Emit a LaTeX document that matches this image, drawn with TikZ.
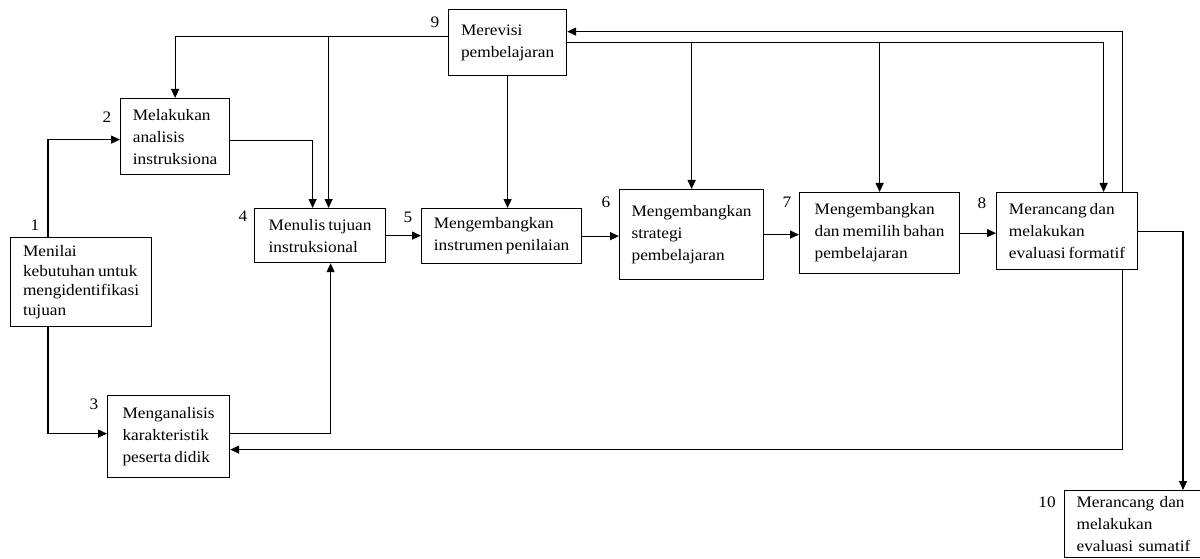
\documentclass[tikz,border=0pt]{standalone}
\usepackage{fontspec}
\setmainfont{Liberation Serif}[FakeStretch=1.08,WordSpace=0.7]
\usepackage{tikz}
\usetikzlibrary{arrows.meta,positioning,calc}

\begin{document}
\begin{tikzpicture}[x=1pt,y=-1pt,
    tahap/.style={draw,line width=1.2pt,anchor=north west,align=left,inner sep=0pt,font=\fontsize{16}{22}\selectfont},
    nomor/.style={inner sep=0pt,font=\fontsize{16}{18}\selectfont},
    panah/.style={line width=1.2pt,-{Triangle[length=9pt,width=8pt]}}]
    \useasboundingbox (0,0) rectangle (1200,559);
    \clip (0,0) rectangle (1200,559);
    % kotak-kotak tahap
    \node[tahap,minimum width=141pt,minimum height=89pt,font=\fontsize{16}{19.5}\selectfont] (n1) at (10,237) {Menilai\\kebutuhan untuk\\mengidentifikasi\\tujuan};
    \node[tahap,minimum width=109pt,minimum height=76pt] (n2) at (120,98) {Melakukan\\analisis\\instruksiona};
    \node[tahap,minimum width=122pt,minimum height=82pt] (n3) at (107,395) {Menganalisis\\karakteristik\\peserta didik};
    \node[tahap,minimum width=131pt,minimum height=54pt] (n4) at (254,208) {Menulis tujuan\\instruksional};
    \node[tahap,minimum width=160pt,minimum height=55pt] (n5) at (421,208) {Mengembangkan\\instrumen penilaian};
    \node[tahap,minimum width=144pt,minimum height=90pt] (n6) at (619,189) {Mengembangkan\\strategi\\pembelajaran};
    \node[tahap,minimum width=160pt,minimum height=81pt] (n7) at (799,192) {Mengembangkan\\dan memilih bahan\\pembelajaran};
    \node[tahap,minimum width=141pt,minimum height=77pt] (n8) at (996,192) {Merancang dan\\melakukan\\evaluasi formatif};
    \node[tahap,minimum width=118pt,minimum height=66pt] (n9) at (448,9) {Merevisi\\pembelajaran};
    \node[tahap,text width=130pt,inner xsep=12pt,inner ysep=6pt] (n10) at (1064,490) {Merancang dan\\melakukan\\evaluasi sumatif};
    % nomor
    \node[nomor] (k1) at ($(n1.north west)+(25,-12)$) {1};
    \node[nomor] (k2) at ($(n2.north west)+(-13,19)$) {2};
    \node[nomor] (k3) at ($(n3.north west)+(-13,9)$) {3};
    \node[nomor] (k4) at ($(n4.north west)+(-11,8)$) {4};
    \node[nomor] (k5) at ($(n5.north west)+(-13,9)$) {5};
    \node[nomor] (k6) at ($(n6.north west)+(-13,13)$) {6};
    \node[nomor] (k7) at ($(n7.north west)+(-12,10)$) {7};
    \node[nomor] (k8) at ($(n8.north west)+(-14,11)$) {8};
    \node[nomor] (k9) at ($(n9.north west)+(-13,13)$) {9};
    \node[nomor] (k10) at ($(n10.north west)+(-17,12)$) {10};
    % alur utama
    \draw[panah] ([xshift=38pt]n1.north west) |- ([yshift=-3pt]n2.west);
    \draw[panah] ([xshift=38pt]n1.south west) |- ([yshift=3pt]n3.west);
    \draw[panah] ([yshift=-4pt]n2.east) -| ([xshift=-7.5pt]n4.north);
    \draw[panah] ([yshift=3pt]n3.east) -| ([xshift=10.5pt]n4.south);
    \draw[panah] (n4.east) -- (n4.east -| n5.west);
    \draw[panah] (n5.east) -- (n5.east -| n6.west);
    \draw[panah] (n6.east) -- (n6.east -| n7.west);
    \draw[panah] (n7.east) -- (n7.east -| n8.west);
    \draw[panah] (n8.east) -| ([xshift=119pt]n10.north west);
    % umpan balik revisi
    \coordinate (kiri9) at ([yshift=6pt]n9.west);
    \coordinate (atas4) at ([xshift=8.5pt]n4.north);
    \draw[panah] (kiri9) -| (n2.north);
    \draw[panah] (kiri9 -| atas4) -- (atas4);
    \draw[panah] (n9.south) -- (n9.south |- n5.north);
    \draw[panah] (n9.east) -| ([xshift=36.5pt]n8.north);
    \draw[panah] (n9.east -| n6.north) -- (n6.north);
    \draw[panah] (n9.east -| n7.north) -- (n7.north);
    \draw[panah] ([xshift=55.5pt]n8.north) |- ([yshift=11pt]n9.east);
    \draw[panah] ([xshift=55.5pt]n8.south) |- ([yshift=-13pt]n3.east);
\end{tikzpicture}
\end{document}
